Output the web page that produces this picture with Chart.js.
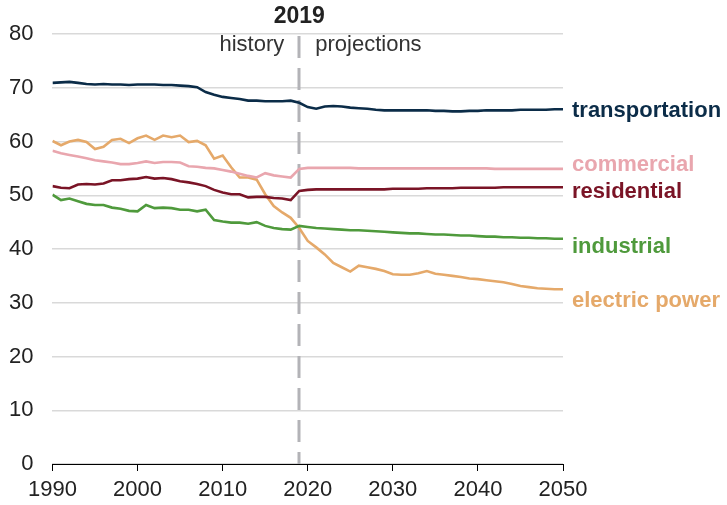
<!DOCTYPE html>
<html>
<head>
<meta charset="utf-8">
<script src="https://cdn.jsdelivr.net/npm/chart.js@4"></script>
<style>
  html, body { margin: 0; padding: 0; background: #fff; }
  #wrap { width: 727px; height: 505px; position: relative; }
</style>
</head>
<body>
<div id="wrap"><canvas id="chart"></canvas></div>
<script>
// years 1990..2050
const years = [];
for (let y = 1990; y <= 2050; y++) years.push(y);

const transportation = [
  70.9, 71.0, 71.1, 70.9, 70.7, 70.6, 70.7, 70.6, 70.6, 70.5,
  70.6, 70.6, 70.6, 70.5, 70.5, 70.4, 70.3, 70.1, 69.2, 68.7,
  68.3, 68.1, 67.9, 67.6, 67.6, 67.5, 67.5, 67.5, 67.6, 67.2,
  66.4, 66.1, 66.5, 66.6, 66.5, 66.3, 66.2, 66.1, 65.9, 65.8,
  65.8, 65.8, 65.8, 65.8, 65.8, 65.7, 65.7, 65.6, 65.6, 65.7,
  65.7, 65.8, 65.8, 65.8, 65.8, 65.9, 65.9, 65.9, 65.9, 66.0, 66.0
];
const commercial = [
  58.3, 57.8, 57.5, 57.2, 56.9, 56.5, 56.3, 56.1, 55.8, 55.8,
  56.0, 56.3, 56.0, 56.2, 56.2, 56.1, 55.4, 55.3, 55.1, 55.0,
  54.7, 54.4, 54.0, 53.6, 53.3, 54.1, 53.7, 53.5, 53.3, 54.9,
  55.1, 55.1, 55.1, 55.1, 55.1, 55.1, 55.0, 55.0, 55.0, 55.0,
  55.0, 55.0, 55.0, 55.0, 55.0, 55.0, 55.0, 55.0, 55.0, 55.0,
  55.0, 55.0, 54.9, 54.9, 54.9, 54.9, 54.9, 54.9, 54.9, 54.9, 54.9
];
const residential = [
  51.7, 51.4, 51.3, 52.0, 52.1, 52.0, 52.2, 52.8, 52.8, 53.0,
  53.1, 53.4, 53.1, 53.2, 53.0, 52.6, 52.4, 52.1, 51.7, 51.0,
  50.5, 50.2, 50.2, 49.6, 49.7, 49.7, 49.5, 49.4, 49.1, 50.8,
  51.0, 51.1, 51.1, 51.1, 51.1, 51.1, 51.1, 51.1, 51.1, 51.1,
  51.2, 51.2, 51.2, 51.2, 51.3, 51.3, 51.3, 51.3, 51.4, 51.4,
  51.4, 51.4, 51.4, 51.5, 51.5, 51.5, 51.5, 51.5, 51.5, 51.5, 51.5
];
const industrial = [
  50.1, 49.1, 49.4, 48.9, 48.4, 48.2, 48.2, 47.7, 47.5, 47.1,
  47.0, 48.2, 47.6, 47.7, 47.6, 47.3, 47.3, 47.0, 47.3, 45.4,
  45.1, 44.9, 44.9, 44.7, 45.0, 44.3, 43.9, 43.7, 43.6, 44.3,
  44.1, 43.9, 43.8, 43.7, 43.6, 43.5, 43.5, 43.4, 43.3, 43.2,
  43.1, 43.0, 42.9, 42.9, 42.8, 42.7, 42.7, 42.6, 42.5, 42.5,
  42.4, 42.3, 42.3, 42.2, 42.2, 42.1, 42.1, 42.0, 42.0, 41.9, 41.9
];
const electricPower = [
  60.1, 59.3, 60.0, 60.3, 59.9, 58.6, 59.0, 60.3, 60.5, 59.7,
  60.6, 61.1, 60.3, 61.1, 60.8, 61.1, 59.9, 60.1, 59.3, 56.8,
  57.4, 55.2, 53.3, 53.3, 52.9, 50.2, 48.0, 46.8, 45.8, 43.9,
  41.5, 40.3, 39.0, 37.4, 36.6, 35.8, 36.9, 36.6, 36.3, 35.9,
  35.3, 35.2, 35.2, 35.5, 35.9, 35.4, 35.2, 35.0, 34.8, 34.5,
  34.4, 34.2, 34.0, 33.8, 33.5, 33.1, 32.9, 32.7, 32.6, 32.5, 32.5
];

const seriesNames = ['transportation', 'commercial', 'residential', 'industrial', 'electric power'];
const seriesColors = ['#0b2c48', '#e9a6ae', '#7a1426', '#4f9a3c', '#e5a96a'];
const seriesValues = [transportation, commercial, residential, industrial, electricPower];
const labelNudge = [2, -4, 5, 8, 12];

const yTicks = [0, 10, 20, 30, 40, 50, 60, 70, 80];
const xTicks = [1990, 2000, 2010, 2020, 2030, 2040, 2050];
const splitYear = 2019;

const FONT = 'Arial, "Liberation Sans", Helvetica, sans-serif';

const datasets = seriesValues.map((vals, i) => ({
  label: seriesNames[i],
  data: vals.map((v, k) => ({ x: years[k], y: v })),
  borderColor: seriesColors[i],
  borderWidth: 2.6,
  pointRadius: 0,
  tension: 0,
  fill: false
}));

const annotatePlugin = {
  id: 'annotate',
  beforeDatasetsDraw(chart) {
    const { ctx, chartArea, scales } = chart;
    const x = Math.round(scales.x.getPixelForValue(splitYear));
    ctx.save();
    ctx.strokeStyle = '#b3b3b7';
    ctx.lineWidth = 3;
    ctx.setLineDash([22, 10]);
    ctx.beginPath();
    ctx.moveTo(x, chartArea.top + 2);
    ctx.lineTo(x, chartArea.bottom);
    ctx.stroke();
    ctx.restore();
  },
  afterDraw(chart) {
    const { ctx, chartArea, scales } = chart;
    const x = scales.x.getPixelForValue(splitYear);
    ctx.save();
    ctx.textBaseline = 'middle';
    ctx.fillStyle = '#222';
    ctx.font = 'bold 23px ' + FONT;
    ctx.textAlign = 'center';
    ctx.fillText(String(splitYear), x, 17);
    ctx.font = '22px ' + FONT;
    ctx.fillStyle = '#333';
    ctx.textAlign = 'right';
    ctx.fillText('history', x - 15, 45);
    ctx.textAlign = 'left';
    ctx.fillText('projections', x + 16, 45);

    ctx.font = 'bold 22px ' + FONT;
    seriesValues.forEach((vals, i) => {
      const y = scales.y.getPixelForValue(vals[vals.length - 1]) + labelNudge[i];
      ctx.fillStyle = seriesColors[i];
      ctx.textAlign = 'left';
      ctx.fillText(seriesNames[i], chartArea.right + 9, y);
    });
    ctx.restore();
  }
};

new Chart(document.getElementById('chart'), {
  type: 'line',
  data: { datasets: datasets },
  options: {
    responsive: true,
    maintainAspectRatio: false,
    animation: false,
    layout: { padding: { top: 34, right: 164, left: -10, bottom: 0 } },
    plugins: {
      legend: { display: false },
      tooltip: { enabled: false }
    },
    scales: {
      x: {
        type: 'linear',
        min: 1990,
        max: 2050,
        afterBuildTicks(axis) { axis.ticks = xTicks.map(v => ({ value: v })); },
        afterFit(axis) { axis.height = 41; },
        grid: {
          display: true,
          drawOnChartArea: false,
          drawTicks: true,
          tickLength: 7,
          color: '#000'
        },
        border: { display: true, color: '#000', width: 1 },
        ticks: {
          color: '#222',
          font: { size: 22, family: FONT, lineHeight: 1 },
          padding: 8,
          maxRotation: 0,
          callback: v => String(v)
        }
      },
      y: {
        min: 0,
        max: 80,
        afterBuildTicks(axis) { axis.ticks = yTicks.map(v => ({ value: v })); },
        grid: {
          color: '#d9d9d9',
          lineWidth: 1.5,
          drawTicks: false
        },
        border: { display: false },
        ticks: {
          color: '#222',
          font: { size: 22, family: FONT },
          padding: 19
        }
      }
    }
  },
  plugins: [annotatePlugin]
});
</script>
</body>
</html>
